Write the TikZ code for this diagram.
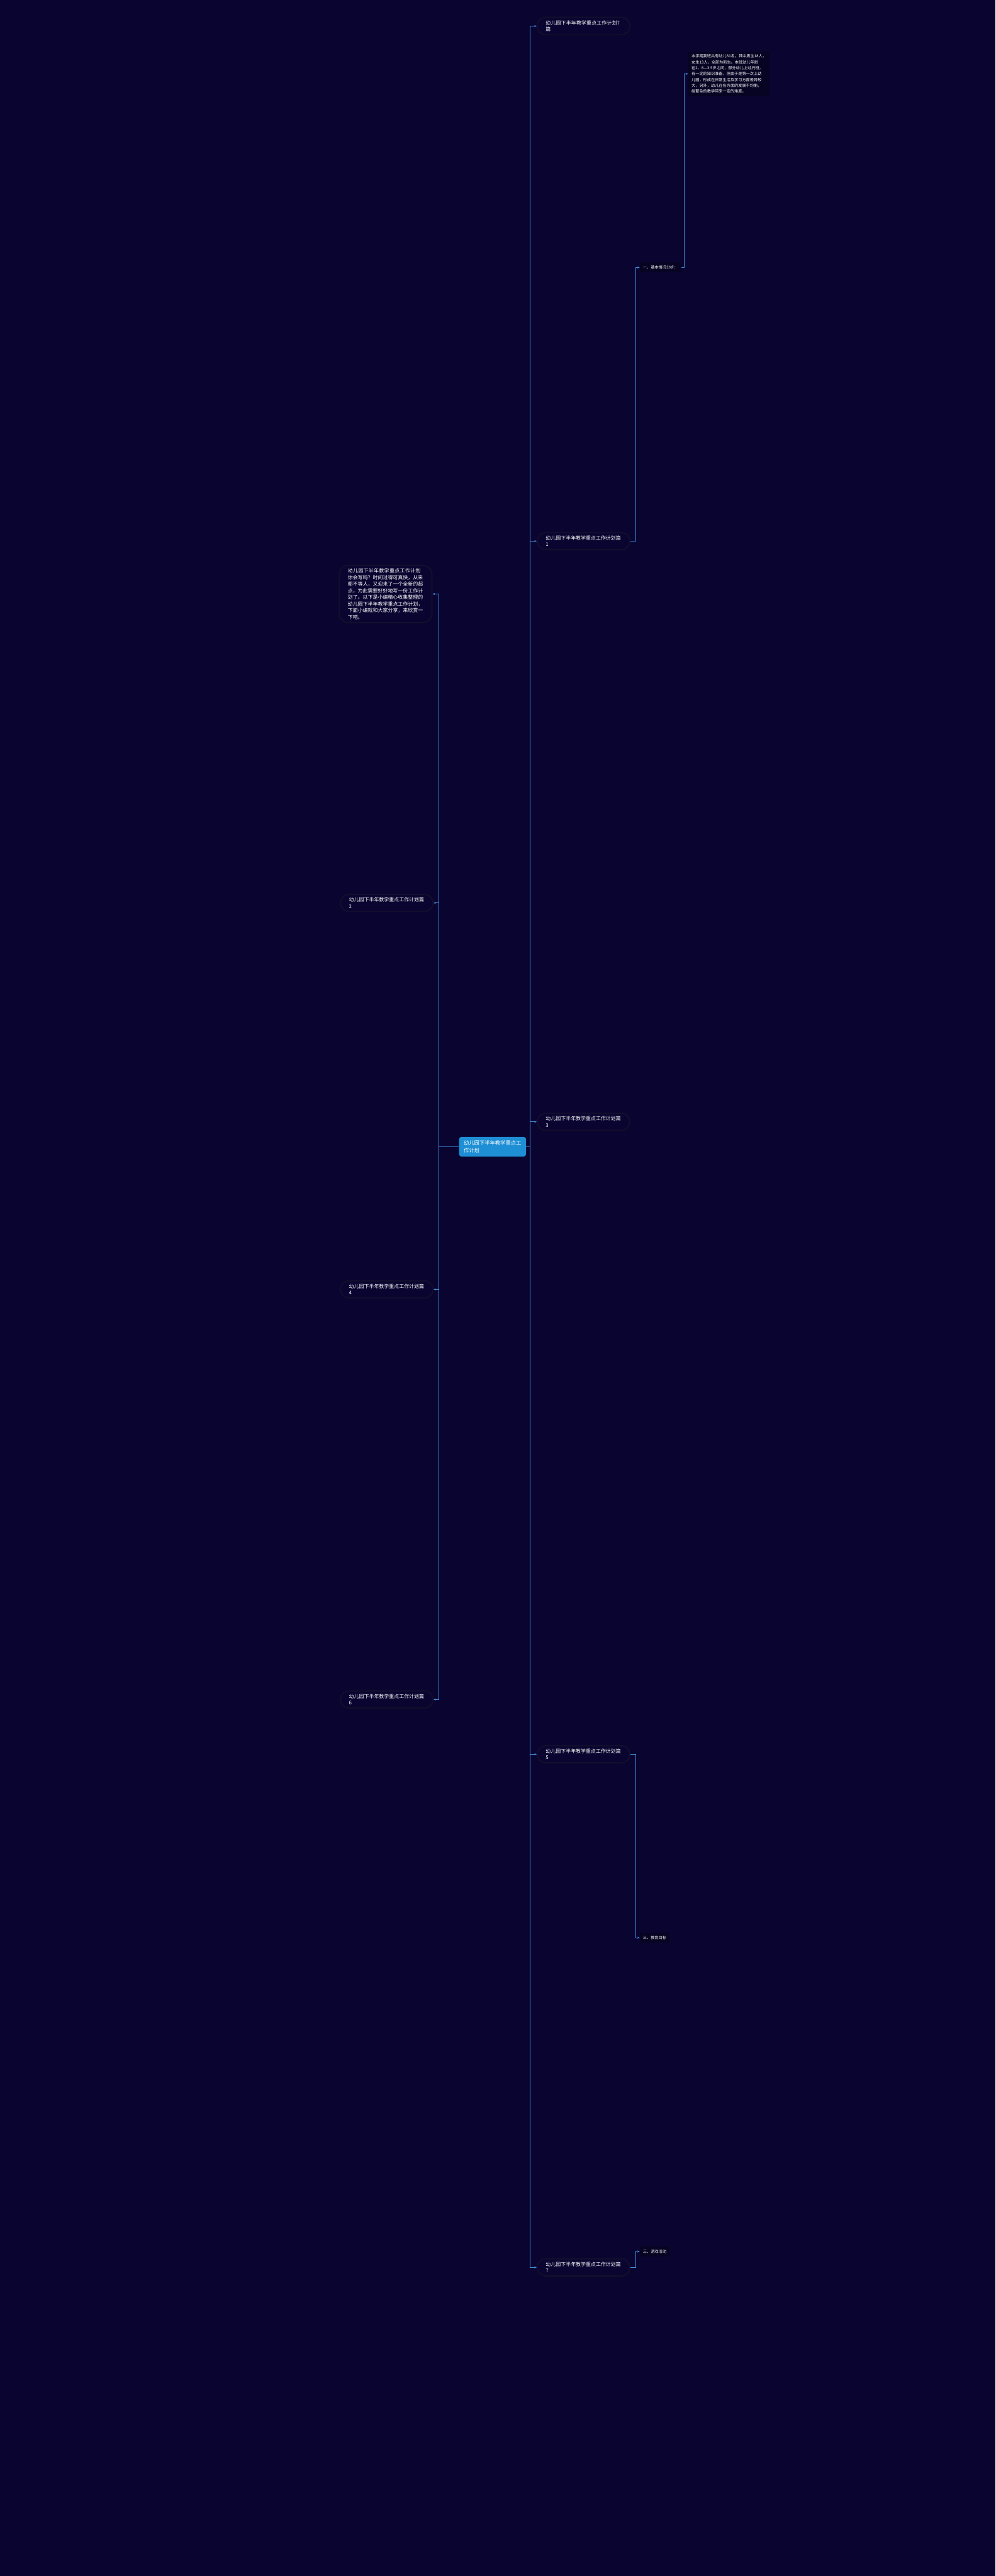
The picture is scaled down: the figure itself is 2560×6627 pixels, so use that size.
\documentclass[tikz,border=0pt]{standalone}
\usepackage{fontspec}
\setmainfont{Noto Sans CJK SC}
\XeTeXlinebreaklocale "zh"
\XeTeXlinebreakskip = 0pt plus 1pt
\usetikzlibrary{arrows.meta, positioning}
\definecolor{bgnavy}{RGB}{10, 5, 48}
\definecolor{rootblue}{RGB}{30, 143, 213}
\definecolor{linkblue}{RGB}{66, 140, 220}
\definecolor{pillrim}{RGB}{20, 14, 44}
\definecolor{leafbg}{RGB}{7, 3, 34}

\begin{document}
\begin{tikzpicture}[
  x=0.5pt, y=-0.5pt,
  >=Stealth,
  root/.style={
    rectangle, rounded corners=3pt, fill=rootblue, text=white,
    font=\fontsize{6.7}{9}\selectfont, align=left, text width=74pt,
    inner xsep=6pt, inner ysep=5pt
  },
  topic/.style={
    rectangle, rounded corners=11pt, fill=bgnavy, draw=pillrim,
    line width=1.5pt, text=white, font=\fontsize{6.4}{8.5}\selectfont,
    align=left, text width=97pt, inner xsep=11pt, inner ysep=4pt
  },
  label/.style={
    rectangle, fill=leafbg, text=white, font=\fontsize{5}{7.5}\selectfont,
    align=left, inner xsep=4pt, inner ysep=4pt
  },
  link/.style={draw=linkblue, line width=0.8pt},
  tolink/.style={link, -{Stealth[length=3pt, width=2.5pt]}},
]

\fill[bgnavy] (0,0) rectangle (2560,6627);
\useasboundingbox (0,0) rectangle (2560,6627);

% centre
\node[root, anchor=east] (main) at (1353,2950) {幼儿园下半年教学重点工作计划};

% right side
\node[topic, anchor=west] (all)  at (1380,67)   {幼儿园下半年教学重点工作计划7篇};
\node[topic, anchor=west] (pA)   at (1380,1392) {幼儿园下半年教学重点工作计划篇1};
\node[topic, anchor=west] (pC)   at (1380,2886) {幼儿园下半年教学重点工作计划篇3};
\node[topic, anchor=west] (pE)   at (1380,4513) {幼儿园下半年教学重点工作计划篇5};
\node[topic, anchor=west] (pG)   at (1380,5833) {幼儿园下半年教学重点工作计划篇7};

% left side
\node[topic, anchor=east] (intro) at (1112,1528) {幼儿园下半年教学重点工作计划你会写吗？时间过得可真快，从来都不等人，又迎来了一个全新的起点，为此需要好好地写一份工作计划了。以下是小编精心收集整理的幼儿园下半年教学重点工作计划，下面小编就和大家分享，来欣赏一下吧。};
\node[topic, anchor=east] (pB)   at (1115,2323) {幼儿园下半年教学重点工作计划篇2};
\node[topic, anchor=east] (pD)   at (1115,3317) {幼儿园下半年教学重点工作计划篇4};
\node[topic, anchor=east] (pF)   at (1115,4372) {幼儿园下半年教学重点工作计划篇6};

% trunk links
\foreach \n in {all, pA, pC, pE, pG}
  \draw[tolink] (main.east) -- (1363,2950) |- (\n.west);
\foreach \n in {intro, pB, pD, pF}
  \draw[tolink] (main.west) -- (1128,2950) |- (\n.east);

% 篇1
\node[label, anchor=west] (pAbase) at (1645,688) {一、基本情况分析：};
\draw[tolink] (pA.east) -- (1635,1392) |- (pAbase.west);
\node[label, anchor=west] (pAbaseTxt) at (1770,190) {本学期我班共有幼儿31名。其中男生18人，\\女生13人，全部为新生。本班幼儿年龄\\在2、8—3.5岁之间，部分幼儿上过托班，\\有一定的知识准备，但由于是第一次上幼\\儿园，形成在日常生活及学习方面差异较\\大，另外，幼儿在各方面的发展不均衡，\\给繁杂的教学带来一定的难度。};
\draw[tolink] (pAbase.east) -- (1759,688) |- (pAbaseTxt.west);

% 篇5
\node[label, anchor=west] (pEgoal) at (1645,4985) {三、教育目标};
\draw[tolink] (pE.east) -- (1635,4513) |- (pEgoal.west);

% 篇7
\node[label, anchor=west] (pGgame) at (1645,5792) {三、游戏活动};
\draw[tolink] (pG.east) -- (1635,5833) |- (pGgame.west);

\end{tikzpicture}
\end{document}
